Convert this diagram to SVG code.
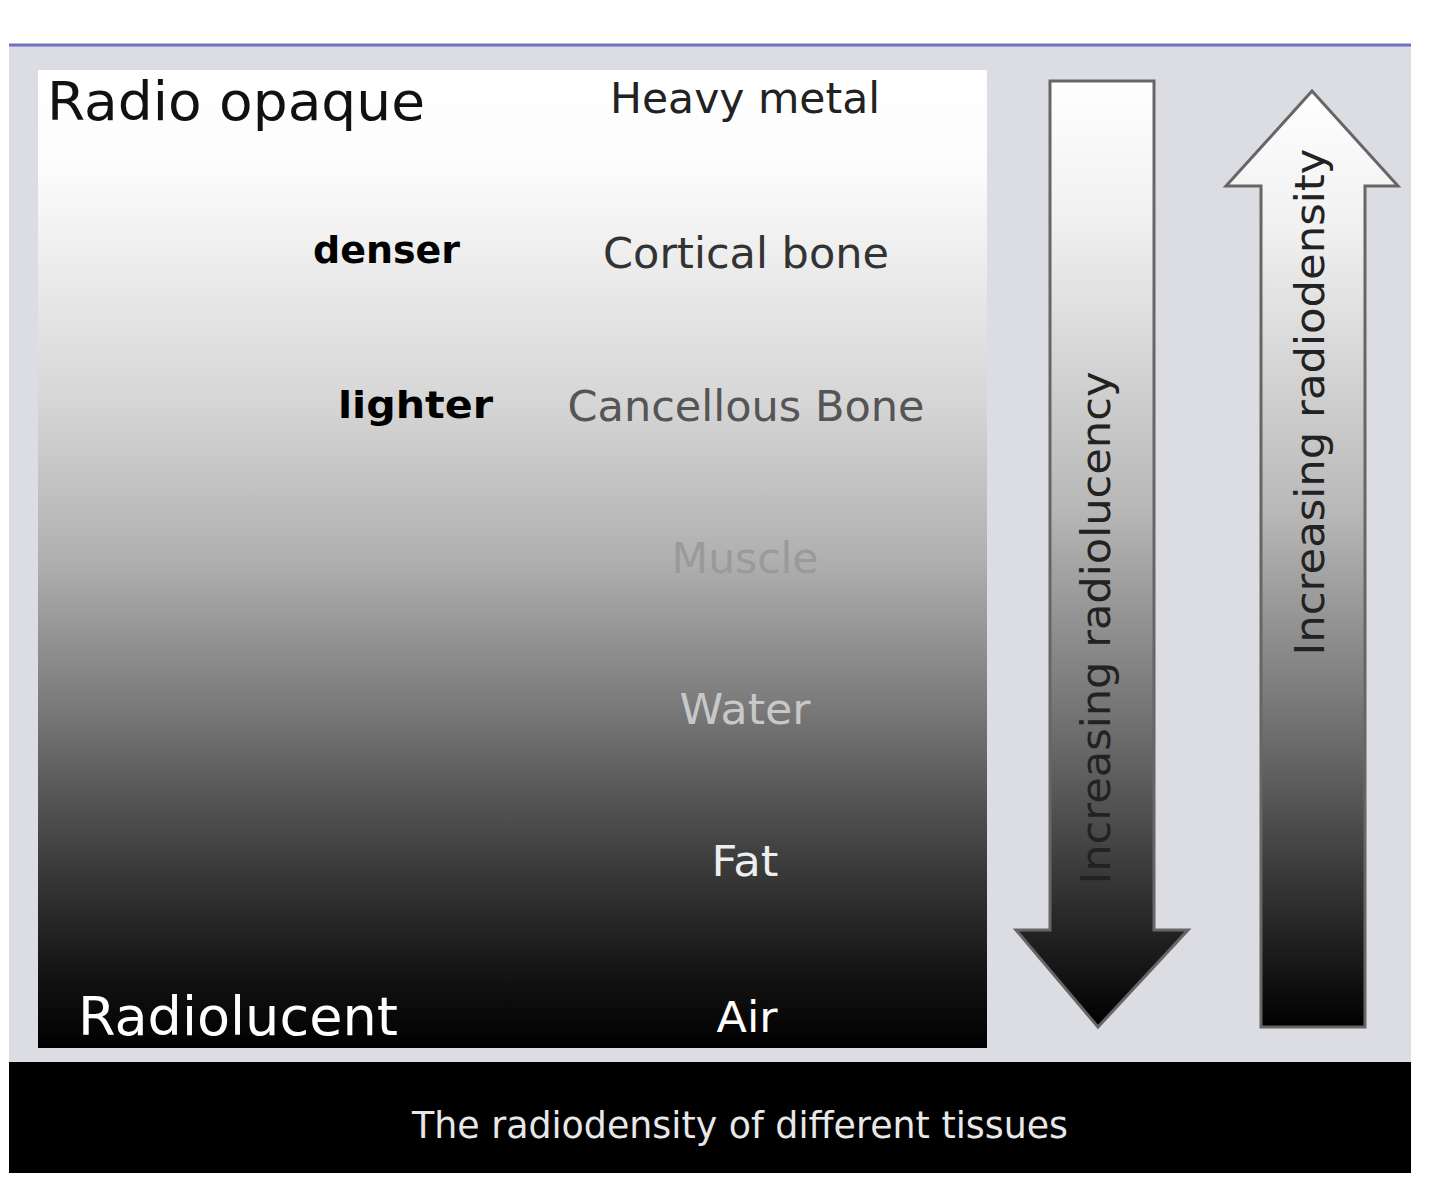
<svg xmlns="http://www.w3.org/2000/svg" width="1440" height="1192" viewBox="0 0 1440 1192">
<style>
.t{font-family:"DejaVu Sans","Liberation Sans",sans-serif;text-anchor:middle}
.big{font-family:"DejaVu Sans","Liberation Sans",sans-serif;font-size:54px}
.lab{font-size:42px}
.hand{font-family:"DejaVu Sans","Liberation Sans",sans-serif;font-weight:bold;font-size:38px;fill:#000}
</style>
<defs>
<linearGradient id="main" x1="0" y1="0" x2="0" y2="1">
<stop offset="0" stop-color="#ffffff"/>
<stop offset="0.1" stop-color="#fcfcfc"/>
<stop offset="0.34" stop-color="#d6d6d6"/>
<stop offset="0.5" stop-color="#b0b0b0"/>
<stop offset="0.65" stop-color="#7a7a7a"/>
<stop offset="0.8" stop-color="#404040"/>
<stop offset="0.92" stop-color="#151515"/>
<stop offset="1" stop-color="#000000"/>
</linearGradient>
<linearGradient id="arr" x1="0" y1="0" x2="0" y2="1">
<stop offset="0" stop-color="#ffffff"/>
<stop offset="0.15" stop-color="#f0f0f0"/>
<stop offset="0.45" stop-color="#b8b8b8"/>
<stop offset="0.7" stop-color="#6a6a6a"/>
<stop offset="0.88" stop-color="#2a2a2a"/>
<stop offset="1" stop-color="#000000"/>
</linearGradient>
</defs>
<rect x="0" y="0" width="1440" height="1192" fill="#ffffff"/>
<g id="panel">
<rect x="9" y="45" width="1402" height="1018" fill="#dcdce3"/>
<line x1="9" y1="45" x2="1411" y2="45" stroke="#7070c0" stroke-width="3"/>
</g>
<g id="scale">
<rect x="38" y="70" width="949" height="978" fill="url(#main)"/>
</g>
<g id="labels">
<text class="big" x="47" y="120" fill="#111" textLength="378" lengthAdjust="spacingAndGlyphs">Radio opaque</text>
<text class="big" x="78" y="1035" fill="#fff" textLength="320" lengthAdjust="spacingAndGlyphs">Radiolucent</text>
<text class="t lab" x="745" y="113" fill="#222" textLength="270" lengthAdjust="spacingAndGlyphs">Heavy metal</text>
<text class="t lab" x="746" y="268" fill="#333" textLength="286" lengthAdjust="spacingAndGlyphs">Cortical bone</text>
<text class="t lab" x="746" y="421" fill="#555" textLength="357" lengthAdjust="spacingAndGlyphs">Cancellous Bone</text>
<text class="t lab" x="745" y="573" fill="#9a9a9a" textLength="147" lengthAdjust="spacingAndGlyphs">Muscle</text>
<text class="t lab" x="745" y="724" fill="#c8c8c8" textLength="131" lengthAdjust="spacingAndGlyphs">Water</text>
<text class="t lab" x="745" y="876" fill="#eeeeee" textLength="67" lengthAdjust="spacingAndGlyphs">Fat</text>
<text class="t lab" x="747" y="1032" fill="#ffffff" textLength="61" lengthAdjust="spacingAndGlyphs">Air</text>
<text class="hand" x="313" y="263" textLength="147" lengthAdjust="spacingAndGlyphs">denser</text>
<text class="hand" x="338" y="418" textLength="155" lengthAdjust="spacingAndGlyphs">lighter</text>
</g>
<g id="arrow-down">
<path d="M1050,81 L1154,81 L1154,930 L1188,930 L1098,1027 L1016,930 L1050,930 Z" fill="url(#arr)" stroke="#666" stroke-width="3" stroke-linejoin="miter"/>
<text class="t" transform="translate(1110,628) rotate(-90)" font-size="40" fill="#222" textLength="513" lengthAdjust="spacingAndGlyphs">Increasing radiolucency</text>
</g>
<g id="arrow-up">
<path d="M1312,91 L1398,186 L1365,186 L1365,1027 L1261,1027 L1261,186 L1226,186 Z" fill="url(#arr)" stroke="#666" stroke-width="3" stroke-linejoin="miter"/>
<text class="t" transform="translate(1324,402) rotate(-90)" font-size="40" fill="#222" textLength="507" lengthAdjust="spacingAndGlyphs">Increasing radiodensity</text>
</g>
<g id="caption">
<rect x="9" y="1062" width="1402" height="111" fill="#000"/>
<text class="t" x="740" y="1138" font-size="38" fill="#e8e8e8" textLength="656" lengthAdjust="spacingAndGlyphs">The radiodensity of different tissues</text>
</g>
</svg>
